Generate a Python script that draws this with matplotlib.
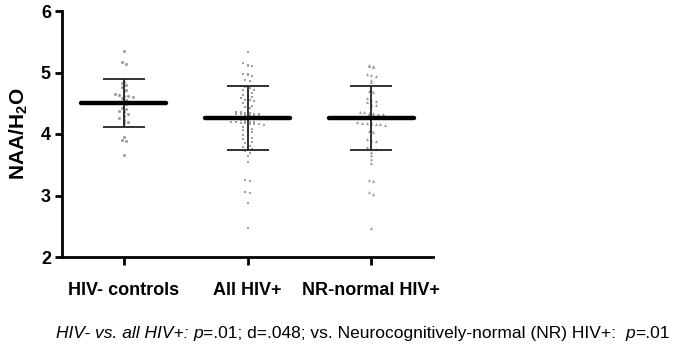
import numpy as np
import matplotlib
matplotlib.use("Agg")
import matplotlib.pyplot as plt

plt.rcParams['font.family'] = ['Liberation Sans', 'DejaVu Sans']

# ---- data ----
groups = ["HIV- controls", "All HIV+", "NR-normal HIV+"]

controls = [5.35, 5.17, 5.14, 4.85, 4.83, 4.79, 4.77, 4.72, 4.70, 4.65, 4.63,
            4.62, 4.61, 4.60, 4.58, 4.55, 4.52, 4.48, 4.42, 4.40, 4.38, 4.36,
            4.33, 4.30, 4.26, 4.22, 4.20, 4.18, 3.95, 3.91, 3.88, 3.66]

hiv_all = [5.34,
           5.15, 5.12, 5.11, 5.10,
           4.98, 4.97, 4.96, 4.95,
           4.88, 4.86,
           4.78, 4.76, 4.74, 4.72, 4.71, 4.70,
           4.66, 4.64, 4.62, 4.60, 4.58, 4.56, 4.55, 4.53,
           4.50, 4.48, 4.46, 4.44, 4.42,
           4.36, 4.35, 4.34, 4.34, 4.33, 4.33, 4.32, 4.32, 4.31, 4.31, 4.30, 4.30,
           4.22, 4.21, 4.20, 4.20, 4.19, 4.19, 4.18, 4.18, 4.17, 4.16, 4.16, 4.15,
           4.12, 4.10, 4.08, 4.06, 4.05, 4.03,
           3.98, 3.96, 3.94, 3.92, 3.90, 3.87, 3.85,
           3.81, 3.79, 3.77, 3.75,
           3.72, 3.69, 3.64, 3.55,
           3.25, 3.24, 3.06, 3.04, 2.88, 2.47]

nr_normal = [5.12, 5.11, 5.10, 5.09, 4.97, 4.96, 4.95, 4.87, 4.84, 4.72, 4.70,
             4.68, 4.58, 4.56, 4.54, 4.52, 4.49, 4.47, 4.45, 4.36, 4.35, 4.34,
             4.34, 4.33, 4.33, 4.32, 4.31, 4.20, 4.19, 4.18, 4.18, 4.17, 4.16,
             4.16, 4.15, 4.07, 4.05, 4.03, 3.92, 3.90, 3.88, 3.79, 3.77, 3.75,
             3.70, 3.66, 3.60, 3.53, 3.25, 3.23, 3.05, 3.03, 2.47]

means = [4.50, 4.26, 4.26]
sds = [0.39, 0.52, 0.52]
markers = ['o', 's', '^']
msizes = [5, 4, 5]

caption = [("HIV- vs. all HIV+: ", 'italic'), ("p", 'italic'),
           ("=.01; d=.048; vs. Neurocognitively-normal (NR) HIV+:  ", 'normal'),
           ("p", 'italic'), ("=.01", 'normal')]


def swarm(vals, d_px=4.6, bin_px=4.0, xs=123.5, ys=61.5):
    # prism-like scatter: bin values into rows, spread each row sideways
    offs = np.zeros(len(vals))
    rows = np.round(np.array(vals) * ys / bin_px)
    for r in np.unique(rows):
        idx = np.where(rows == r)[0]
        n = len(idx)
        pos = (np.arange(n) - (n - 1) / 2) * d_px
        offs[idx] = pos / xs
    return offs


fig = plt.figure(figsize=(6.73, 3.47), dpi=100)
ax = fig.add_axes([62 / 673, 90 / 347, 371 / 673, 246 / 347])

for i, vals in enumerate([controls, hiv_all, nr_normal]):
    vals = np.array(vals)
    ax.scatter(i + swarm(vals), vals, s=msizes[i], marker=markers[i], color='#a0a0a0',
               linewidths=0, zorder=2)
    # mean line
    ax.plot([i - 0.345, i + 0.345], [means[i], means[i]], color='black', lw=3.2,
            solid_capstyle='round', zorder=4)
    # sd bars
    ax.errorbar(i, means[i], yerr=sds[i], fmt='none', ecolor='#222222',
                elinewidth=1.3, capsize=15, capthick=1.3, zorder=3)

ax.set_xlim(-0.5, 2.5)
ax.set_ylim(2, 6)
ax.set_yticks([2, 3, 4, 5, 6])
ax.set_xticks(range(3))
ax.set_xticklabels(groups, fontsize=13, fontweight='bold')
for lbl in ax.get_yticklabels():
    lbl.set_fontsize(13)
    lbl.set_fontweight('bold')
ax.tick_params(axis='y', length=5, width=2, pad=3)
ax.tick_params(axis='x', length=6, width=2, pad=12)
for s in ['top', 'right']:
    ax.spines[s].set_visible(False)
for s in ['left', 'bottom']:
    ax.spines[s].set_linewidth(2)
ax.set_ylabel(r'NAA/H$_\mathregular{2}$O', fontsize=15, fontweight='bold', labelpad=8)

# caption built from pieces with mixed styles
renderer = fig.canvas.get_renderer()
x0 = 56 / 673
for txt, style in caption:
    t = fig.text(x0, 9 / 347, txt, fontsize=12.5, style=style, va='baseline', ha='left')
    bb = t.get_window_extent(renderer=renderer)
    x0 += bb.width / 673

fig.savefig('out.png', dpi=100)
